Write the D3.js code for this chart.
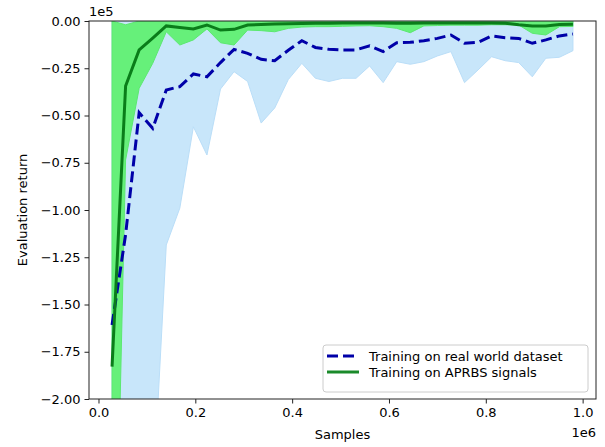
<!DOCTYPE html>
<html>
<head>
<meta charset="utf-8">
<script src="https://cdn.jsdelivr.net/npm/d3@7"></script>
<style>
  body { margin: 0; background: #fff; }
  text { font-family: 'DejaVu Sans', sans-serif; fill: #000; }
</style>
</head>
<body>
<div id="chart"></div>
<script>
// SVG dimensions
var w = 605;
var h = 447;
var margin = { left: 89, right: 9, top: 21, bottom: 48 };

// Data (returns in units of 1e5, samples in raw count)
var samples = [28000, 56000, 84000, 112000, 140000, 168000, 196000, 224000, 252000, 280000,
  308000, 336000, 364000, 392000, 420000, 448000, 476000, 504000, 532000, 560000,
  588000, 616000, 644000, 672000, 700000, 728000, 756000, 784000, 812000, 840000,
  868000, 896000, 924000, 952000, 980000];

var realMean = [-1.608, -1.13, -0.485, -0.568, -0.365, -0.347, -0.28, -0.295, -0.22, -0.15,
  -0.171, -0.203, -0.21, -0.155, -0.104, -0.14, -0.15, -0.153, -0.153, -0.131,
  -0.162, -0.115, -0.113, -0.104, -0.092, -0.074, -0.118, -0.113, -0.079, -0.088,
  -0.092, -0.118, -0.1, -0.079, -0.069];
var realLower = [-3.5, -3.2, -2.9, -2.55, -1.185, -0.99, -0.56, -0.709, -0.36, -0.268,
  -0.32, -0.54, -0.46, -0.31, -0.224, -0.303, -0.32, -0.303, -0.303, -0.238,
  -0.326, -0.215, -0.229, -0.215, -0.185, -0.162, -0.326, -0.259, -0.189, -0.21,
  -0.22, -0.295, -0.197, -0.192, -0.157];
var realUpper = [0, 0, 0, 0, 0, 0, 0, 0, 0, 0,
  0, 0, 0, 0, 0, 0, 0, 0, 0, 0,
  0, 0, 0, 0, 0, 0, 0, 0, 0, 0,
  0, 0, 0, 0, 0];

var aprbsMean = [-1.829, -0.344, -0.153, -0.09, -0.026, -0.034, -0.042, -0.021, -0.048, -0.044,
  -0.021, -0.019, -0.016, -0.014, -0.013, -0.012, -0.012, -0.011, -0.011, -0.011,
  -0.011, -0.012, -0.012, -0.011, -0.01, -0.01, -0.01, -0.01, -0.01, -0.012,
  -0.02, -0.026, -0.026, -0.018, -0.017];
var aprbsLower = [-3.9, -0.735, -0.356, -0.224, -0.057, -0.127, -0.1, -0.042, -0.115, -0.127,
  -0.048, -0.051, -0.057, -0.039, -0.032, -0.03, -0.03, -0.028, -0.026, -0.025,
  -0.03, -0.039, -0.062, -0.026, -0.024, -0.022, -0.022, -0.022, -0.02, -0.02,
  -0.021, -0.065, -0.074, -0.03, -0.029];
var aprbsUpper = [0, -0.02, 0, 0, 0, 0, 0, 0, 0, 0,
  0, 0, 0, 0, 0, 0, 0, 0, 0, 0,
  0, 0, 0, 0, 0, 0, 0, 0, 0, 0,
  0, 0, 0, 0, 0];

var xTicks = [0, 200000, 400000, 600000, 800000, 1000000];
var yTicks = [0, -0.25, -0.5, -0.75, -1.0, -1.25, -1.5, -1.75, -2.0];

var legendLabels = ['Training on real world dataset', 'Training on APRBS signals'];

var realData = samples.map((s, i) => ({ x: s, y: realMean[i], lo: realLower[i], hi: realUpper[i] }));
var aprbsData = samples.map((s, i) => ({ x: s, y: aprbsMean[i], lo: aprbsLower[i], hi: aprbsUpper[i] }));

// Define SVG
var svg = d3.select('#chart')
  .append('svg')
  .attr('width', w)
  .attr('height', h);

// Scales (matplotlib style 5% margin on x)
var xMin = d3.min(samples), xMax = d3.max(samples);
var pad = (xMax - xMin) * 0.05;
var xScale = d3.scaleLinear()
  .domain([xMin - pad, xMax + pad])
  .range([margin.left, w - margin.right]);

var yScale = d3.scaleLinear()
  .domain([-2, 0])
  .range([h - margin.bottom, margin.top]);

svg.append('clipPath')
  .attr('id', 'plot-clip')
  .append('rect')
  .attr('x', margin.left)
  .attr('y', margin.top)
  .attr('width', w - margin.left - margin.right)
  .attr('height', h - margin.top - margin.bottom);

var plot = svg.append('g').attr('clip-path', 'url(#plot-clip)');

var area = d3.area()
  .x(d => xScale(d.x))
  .y0(d => yScale(d.lo))
  .y1(d => yScale(d.hi));

var line = d3.line()
  .x(d => xScale(d.x))
  .y(d => yScale(d.y));

// Fills first, lines on top
plot.append('path')
  .datum(realData)
  .attr('d', area)
  .attr('fill', 'rgb(200, 230, 250)')
  .attr('stroke', 'rgb(186, 222, 248)')
  .attr('stroke-width', 1);

plot.append('path')
  .datum(aprbsData)
  .attr('d', area)
  .attr('fill', 'rgb(102, 240, 122)')
  .attr('stroke', 'rgb(92, 232, 112)')
  .attr('stroke-width', 1);

plot.append('path')
  .datum(realData)
  .attr('d', line)
  .attr('fill', 'none')
  .attr('stroke', '#0000a8')
  .attr('stroke-width', 3)
  .attr('stroke-dasharray', '11,5');

plot.append('path')
  .datum(aprbsData)
  .attr('d', line)
  .attr('fill', 'none')
  .attr('stroke', '#0a7d1a')
  .attr('stroke-width', 3);

// Axes
var fmtY = d3.format('.2f');
var xAxis = d3.axisBottom(xScale)
  .tickValues(xTicks)
  .tickSize(4.5)
  .tickPadding(4)
  .tickFormat(d => (d / 1e6).toFixed(1));

var yAxis = d3.axisLeft(yScale)
  .tickValues(yTicks)
  .tickSize(4.5)
  .tickPadding(4)
  .tickFormat(d => fmtY(d).replace('-', '\u2212'));

var xAxisGroup = svg.append('g')
  .attr('transform', `translate(0, ${h - margin.bottom})`)
  .call(xAxis);

var yAxisGroup = svg.append('g')
  .attr('transform', `translate(${margin.left}, 0)`)
  .call(yAxis);

[xAxisGroup, yAxisGroup].forEach(g => {
  g.select('.domain').remove();
  g.selectAll('line').attr('stroke', '#222').attr('stroke-width', 1);
  g.selectAll('text').attr('font-size', 13).attr('font-family', 'DejaVu Sans');
});

// Frame
svg.append('rect')
  .attr('x', margin.left)
  .attr('y', margin.top)
  .attr('width', w - margin.left - margin.right)
  .attr('height', h - margin.top - margin.bottom)
  .attr('fill', 'none')
  .attr('stroke', '#222')
  .attr('stroke-width', 1);

// Labels
svg.append('text')
  .attr('x', (margin.left + w - margin.right) / 2)
  .attr('y', 439)
  .attr('text-anchor', 'middle')
  .attr('font-size', 13)
  .text('Samples');

svg.append('text')
  .attr('transform', `translate(27, ${(margin.top + h - margin.bottom) / 2}) rotate(-90)`)
  .attr('text-anchor', 'middle')
  .attr('font-size', 13)
  .text('Evaluation return');

svg.append('text')
  .attr('x', margin.left)
  .attr('y', 16)
  .attr('font-size', 13)
  .text('1e5');

svg.append('text')
  .attr('x', w - margin.right)
  .attr('y', 437)
  .attr('text-anchor', 'end')
  .attr('font-size', 13)
  .text('1e6');

// Legend
var legend = svg.append('g').attr('transform', 'translate(323, 345)');
legend.append('rect')
  .attr('width', 265)
  .attr('height', 47)
  .attr('rx', 3)
  .attr('fill', 'rgba(255,255,255,0.8)')
  .attr('stroke', '#cccccc');

var legendStyles = [
  { stroke: '#0000a8', dash: '11,5' },
  { stroke: '#1a8a2a', dash: null },
];

legendLabels.forEach((label, i) => {
  var y = 11 + i * 16;
  legend.append('line')
    .attr('x1', 4).attr('x2', 36)
    .attr('y1', y).attr('y2', y)
    .attr('stroke', legendStyles[i].stroke)
    .attr('stroke-width', 3)
    .attr('stroke-dasharray', legendStyles[i].dash);
  legend.append('text')
    .attr('x', 46)
    .attr('y', y + 4.5)
    .attr('font-size', 13)
    .text(label);
});
</script>
</body>
</html>
